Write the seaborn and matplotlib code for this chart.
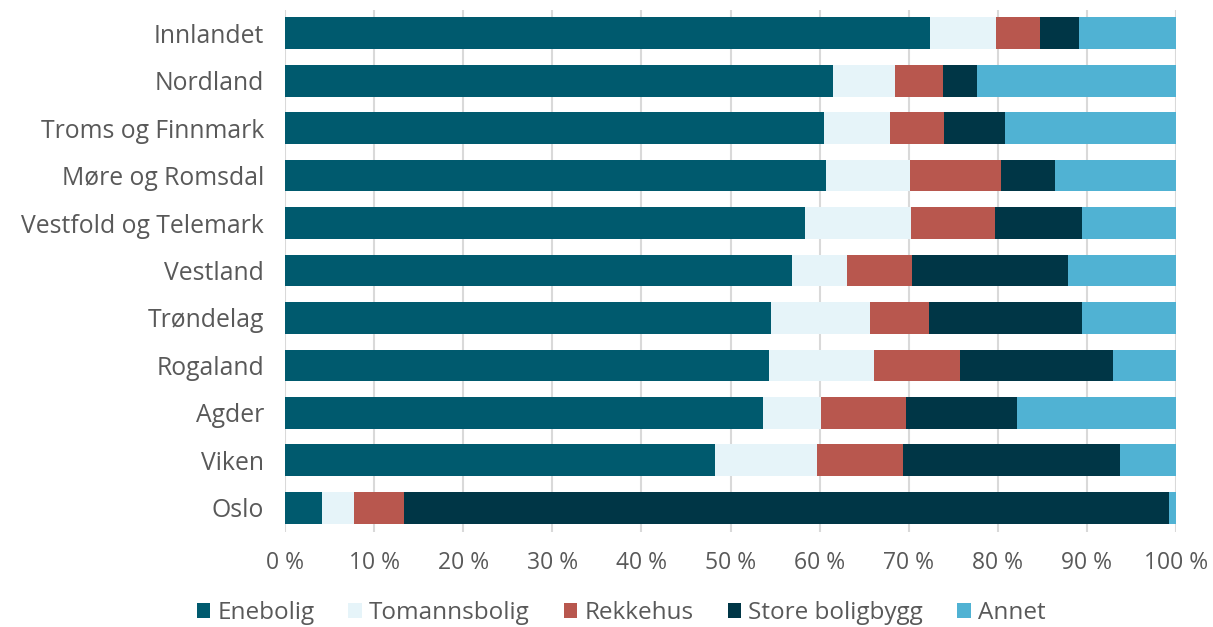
import matplotlib
matplotlib.use("Agg")
import matplotlib.pyplot as plt
from matplotlib.patches import Patch
from matplotlib.ticker import MultipleLocator, FuncFormatter
import numpy as np
import pandas as pd
import seaborn as sns

regions = ["Innlandet", "Nordland", "Troms og Finnmark", "Møre og Romsdal",
           "Vestfold og Telemark", "Vestland", "Trøndelag", "Rogaland",
           "Agder", "Viken", "Oslo"]

enebolig = [72.4, 61.5, 60.5, 60.7, 58.4, 56.9, 54.5, 54.3, 53.6, 48.3, 4.2]
tomannsbolig = [7.4, 7.0, 7.4, 9.5, 11.9, 6.2, 11.2, 11.8, 6.6, 11.4, 3.6]
rekkehus = [4.9, 5.3, 6.1, 10.2, 9.4, 7.3, 6.6, 9.7, 9.5, 9.7, 5.6]
store_boligbygg = [4.4, 3.9, 6.8, 6.0, 9.7, 17.5, 17.1, 17.1, 12.5, 24.3, 85.8]
annet = [10.9, 22.3, 19.2, 13.6, 10.6, 12.1, 10.6, 7.1, 17.8, 6.3, 0.8]

series_names = ["Enebolig", "Tomannsbolig", "Rekkehus", "Store boligbygg", "Annet"]
series_values = [enebolig, tomannsbolig, rekkehus, store_boligbygg, annet]
colors = ["#005A6E", "#E6F4F9", "#B8574E", "#003646", "#50B2D3"]

sns.set_theme(style="white")
plt.rcParams["font.family"] = ["Open Sans", "DejaVu Sans"]

fig = plt.figure(figsize=(12.13, 6.27), dpi=100)
ax = fig.add_axes([285 / 1213, 1 - 531.5 / 627, (1176 - 285) / 1213, 522 / 627])

df = pd.DataFrame({name: vals for name, vals in zip(series_names, series_values)},
                  index=regions)
cum = df.cumsum(axis=1)

# Stacked bars: draw cumulative totals from the outermost segment inward
for name, col in reversed(list(zip(series_names, colors))):
    sns.barplot(x=cum[name].values, y=regions, color=col, orient="h",
                width=0.67, ax=ax, saturation=1, zorder=3,
                edgecolor=col, linewidth=0)

ax.set_xlim(0, 100)
ax.set_ylim(10.5, -0.5)
ax.xaxis.set_major_locator(MultipleLocator(10))
ax.xaxis.set_major_formatter(FuncFormatter(lambda v, p: f"{int(v)} %"))
ax.grid(axis="x", color="#D9D9D9", linewidth=1.5, zorder=0)
ax.grid(axis="y", visible=False)
ax.set_axisbelow(True)
for s in ax.spines.values():
    s.set_visible(False)
ax.set_xlabel("")
ax.set_ylabel("")
ax.tick_params(axis="x", colors="#595959", labelsize=16.5, length=0, pad=14)
ax.tick_params(axis="y", colors="#595959", labelsize=17.8, length=0, pad=15)
for lbl in ax.get_xticklabels() + ax.get_yticklabels():
    lbl.set_color("#595959")

handles = [Patch(facecolor=c, edgecolor="none", label=n)
           for n, c in zip(series_names, colors)]
fig.legend(handles=handles, loc="center", bbox_to_anchor=(0.512, 1 - 613 / 627),
           ncol=5, frameon=False, fontsize=17.5, handlelength=0.55, handleheight=0.55,
           handletextpad=0.3, columnspacing=1.4, labelcolor="#595959")

fig.savefig("out.png", dpi=100)
